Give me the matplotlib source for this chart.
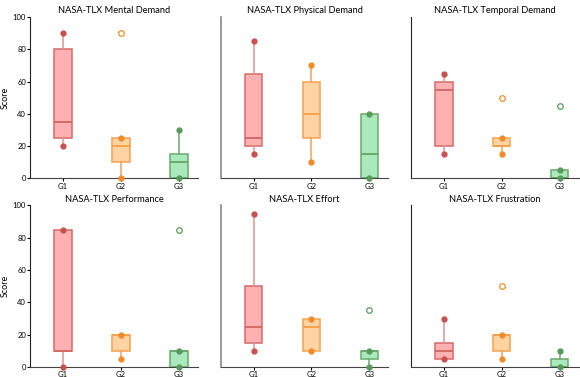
import matplotlib
matplotlib.use("Agg")
import matplotlib.pyplot as plt

plt.rcParams['font.family'] = ['Lato', 'DejaVu Sans']

groups = ["G1", "G2", "G3"]
titles = ["NASA-TLX Mental Demand", "NASA-TLX Physical Demand", "NASA-TLX Temporal Demand",
          "NASA-TLX Performance", "NASA-TLX Effort", "NASA-TLX Frustration"]

# per metric: per group (whislo, q1, med, q3, whishi)
mental = [(20, 25, 35, 80, 90), (0, 10, 20, 25, 25), (0, 0, 10, 15, 30)]
physical = [(15, 20, 25, 65, 85), (10, 25, 40, 60, 70), (0, 0, 15, 40, 40)]
temporal = [(15, 20, 55, 60, 65), (15, 20, 20, 25, 25), (0, 0, 0, 5, 5)]
performance = [(0, 10, 10, 85, 85), (5, 10, 20, 20, 20), (0, 0, 10, 10, 10)]
effort = [(10, 15, 25, 50, 95), (10, 10, 25, 30, 30), (0, 5, 10, 10, 10)]
frustration = [(5, 5, 10, 15, 30), (5, 10, 20, 20, 20), (0, 0, 0, 5, 10)]

mental_fliers = [[], [90], []]
physical_fliers = [[], [], []]
temporal_fliers = [[], [50], [45]]
performance_fliers = [[], [], [85]]
effort_fliers = [[], [], [35]]
frustration_fliers = [[], [50], []]

stats_all = [mental, physical, temporal, performance, effort, frustration]
fliers_all = [mental_fliers, physical_fliers, temporal_fliers,
              performance_fliers, effort_fliers, frustration_fliers]

fills = ["#ffb0b0", "#ffd4a2", "#a9e9bb"]
edges = ["#d46a6a", "#f5a24e", "#6aaa6e"]
whisk = ["#d89494", "#f0a060", "#6aaa6e"]
dots = ["#c8504f", "#f08a2a", "#579a5a"]

fig, axes = plt.subplots(2, 3, figsize=(5.8, 3.77), dpi=100, sharey=True)
fig.subplots_adjust(left=0.052, right=0.998, top=0.955, bottom=0.0265, wspace=0.133, hspace=0.167)

for i, ax in enumerate(axes.flat):
    st = stats_all[i]
    fl = fliers_all[i]
    for j, g in enumerate(groups):
        lo, q1, med, q3, hi = st[j]
        d = dict(whislo=lo, q1=q1, med=med, q3=q3, whishi=hi, fliers=fl[j], label=g)
        ax.bxp([d], positions=[j], widths=0.3, patch_artist=True, showcaps=False,
               boxprops=dict(facecolor=fills[j], edgecolor=edges[j], linewidth=1.1),
               medianprops=dict(color=edges[j], linewidth=1.4),
               whiskerprops=dict(color=whisk[j], linewidth=1.1),
               flierprops=dict(marker='o', markerfacecolor='none', markeredgecolor=dots[j],
                               markersize=4, markeredgewidth=0.9))
        ax.plot([j, j], [lo, hi], 'o', color=dots[j], markersize=3.5, zorder=5, clip_on=False)
    ax.set_title(titles[i], fontsize=6.7, pad=2.5)
    ax.set_xticks(range(3))
    ax.set_xticklabels(groups, fontsize=5.5)
    ax.set_xlim(-0.57, 2.33)
    ax.set_ylim(0, 100)
    ax.set_yticks([0, 20, 40, 60, 80, 100])
    ax.tick_params(axis='both', labelsize=5.5, length=2, width=0.8, pad=1)
    for s in ['top', 'right']:
        ax.spines[s].set_visible(False)
    ax.spines['bottom'].set_color('#444444')
    col = i % 3
    if col == 1:
        ax.spines['left'].set_color('#888888')
        ax.spines['left'].set_linewidth(1.2)
    else:
        ax.spines['left'].set_color('#222222')
    if col == 0:
        ax.set_ylabel("Score", fontsize=6.5, labelpad=2)
    else:
        ax.tick_params(axis='y', left=False, labelleft=False)

fig.savefig("out.png", dpi=100)
